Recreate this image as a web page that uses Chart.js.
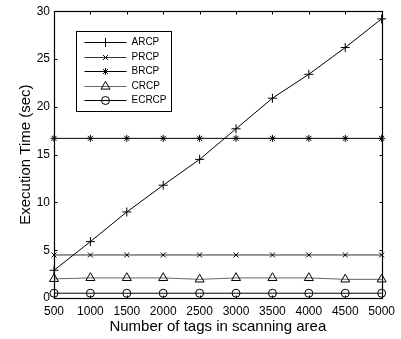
<!DOCTYPE html>
<html>
<head>
<meta charset="utf-8">
<script src="https://cdn.jsdelivr.net/npm/chart.js@4/dist/chart.umd.min.js"></script>
<style>
  html, body { margin: 0; padding: 0; background: #fff; }
  #wrap { width: 401px; height: 339px; }
</style>
</head>
<body>
<div id="wrap"><canvas id="c" width="401" height="339"></canvas></div>
<script>
// Number of tags in the scanning area (x axis)
const tagCounts = [500, 1000, 1500, 2000, 2500, 3000, 3500, 4000, 4500, 5000];

// Execution time in seconds for each protocol
const arcp  = [2.9, 5.9, 9.0, 11.8, 14.5, 17.7, 20.9, 23.4, 26.2, 29.2];
const prcp  = [4.5, 4.5, 4.5, 4.5, 4.5, 4.5, 4.5, 4.5, 4.5, 4.5];
const brcp  = [16.7, 16.7, 16.7, 16.7, 16.7, 16.7, 16.7, 16.7, 16.7, 16.7];
const crcp  = [2.0, 2.1, 2.1, 2.1, 1.95, 2.1, 2.1, 2.1, 1.95, 1.95];
const ecrcp = [0.5, 0.5, 0.5, 0.5, 0.5, 0.5, 0.5, 0.5, 0.5, 0.5];

// Axis ticks
const xTicks = [500, 1000, 1500, 2000, 2500, 3000, 3500, 4000, 4500, 5000];
const yTicks = [0, 5, 10, 15, 20, 25, 30];

const FONT = "'Liberation Sans', Arial, Helvetica, sans-serif";
Chart.defaults.font.family = FONT;
Chart.defaults.color = '#000';

const toPoints = ys => tagCounts.map((x, i) => ({ x: x, y: ys[i] }));

function series(label, values, style, radius, color) {
  return {
    label: label,
    data: toPoints(values),
    borderColor: color,
    borderWidth: 1,
    pointStyle: style,
    pointRadius: radius,
    pointBorderColor: '#000',
    pointBackgroundColor: 'rgba(0,0,0,0)',
    pointBorderWidth: 1,
    tension: 0,
    clip: false
  };
}

// Boxed axes with inward tick marks on all four sides
const framePlugin = {
  id: 'frame',
  afterDatasetsDraw(chart) {
    const { ctx, chartArea: a, scales } = chart;
    const L = Math.round(a.left) + 0.5, R = Math.round(a.right) + 0.5;
    const T = Math.round(a.top) + 0.5, B = Math.round(a.bottom) + 0.5;
    const len = 3;
    ctx.save();
    ctx.strokeStyle = '#000';
    ctx.lineWidth = 1.2;
    ctx.strokeRect(L, T, R - L, B - T);
    ctx.lineWidth = 1;
    ctx.beginPath();
    xTicks.forEach(v => {
      const px = Math.round(scales.x.getPixelForValue(v)) + 0.5;
      ctx.moveTo(px, B); ctx.lineTo(px, B - len);
      ctx.moveTo(px, T); ctx.lineTo(px, T + len);
    });
    yTicks.forEach(v => {
      const py = Math.round(scales.y.getPixelForValue(v)) + 0.5;
      ctx.moveTo(L, py); ctx.lineTo(L + len, py);
      ctx.moveTo(R, py); ctx.lineTo(R - len, py);
    });
    ctx.stroke();
    ctx.restore();
  }
};

// Boxed legend in the upper-left corner of the plot
const boxLegendPlugin = {
  id: 'boxLegend',
  afterDraw(chart) {
    const { ctx, chartArea: a } = chart;
    const x0 = Math.round(a.left) + 22.5, y0 = Math.round(a.top) + 20.5;
    const w = 95, h = 80;
    ctx.save();
    ctx.fillStyle = '#fff';
    ctx.fillRect(x0, y0, w, h);
    ctx.strokeStyle = '#000';
    ctx.lineWidth = 1;
    ctx.strokeRect(x0, y0, w, h);
    ctx.font = '10px ' + FONT;
    ctx.textBaseline = 'middle';
    ctx.textAlign = 'left';
    chart.data.datasets.forEach((ds, i) => {
      const y = Math.round(y0 + 10.5 + i * 14.6) + 0.5;
      ctx.strokeStyle = ds.borderColor;
      ctx.lineWidth = 1;
      ctx.beginPath();
      ctx.moveTo(x0 + 8, y);
      ctx.lineTo(x0 + 50, y);
      ctx.stroke();
      ctx.strokeStyle = '#000';
      ctx.fillStyle = 'rgba(0,0,0,0)';
      Chart.helpers.drawPoint(ctx, {
        pointStyle: ds.pointStyle, radius: ds.pointRadius, borderWidth: 1, rotation: 0
      }, x0 + 29, y);
      ctx.fillStyle = '#000';
      ctx.fillText(ds.label, x0 + 55, y);
    });
    ctx.restore();
  }
};

new Chart(document.getElementById('c'), {
  type: 'line',
  data: {
    datasets: [
      series('ARCP', arcp, 'cross', 4.5, '#000'),
      series('PRCP', prcp, 'crossRot', 3.5, '#333'),
      series('BRCP', brcp, 'star', 3.5, '#000'),
      series('CRCP', crcp, 'triangle', 5.2, '#666'),
      series('ECRCP', ecrcp, 'circle', 4, '#000')
    ]
  },
  options: {
    responsive: false,
    animation: false,
    devicePixelRatio: 1,
    layout: { padding: { top: 10, right: 19, bottom: 0, left: 0 } },
    plugins: { legend: { display: false }, tooltip: { enabled: false } },
    scales: {
      x: {
        type: 'linear',
        min: 500, max: 5000,
        grid: { display: false, drawTicks: false },
        border: { display: false },
        afterBuildTicks: s => { s.ticks = xTicks.map(v => ({ value: v })); },
        ticks: {
          font: { size: 12 }, color: '#000', padding: 6, maxRotation: 0, autoSkip: false,
          callback: v => String(v)
        },
        title: {
          display: true, text: 'Number of tags in scanning area',
          font: { size: 15 }, color: '#000', padding: { top: 0, bottom: 3 }
        },
        afterFit: s => { s.height = 41; }
      },
      y: {
        type: 'linear',
        min: 0, max: 30,
        grid: { display: false, drawTicks: false },
        border: { display: false },
        afterBuildTicks: s => { s.ticks = yTicks.map(v => ({ value: v })); },
        ticks: { font: { size: 12 }, color: '#000', padding: 4, callback: v => String(v) },
        title: {
          display: true, text: 'Execution Time (sec)',
          font: { size: 15 }, color: '#000', padding: { top: 17, bottom: 0 }
        },
        afterFit: s => { s.width = 54; }
      }
    }
  },
  plugins: [framePlugin, boxLegendPlugin]
});
</script>
</body>
</html>
